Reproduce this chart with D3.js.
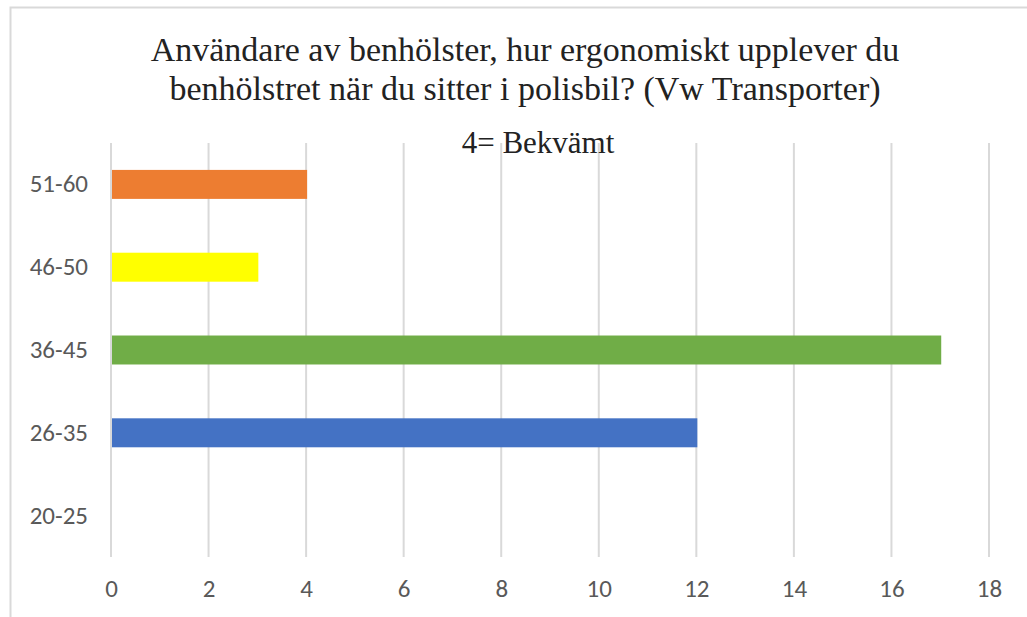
<!DOCTYPE html>
<html>
<head>
<meta charset="utf-8">
<script src="https://cdn.jsdelivr.net/npm/d3@7"></script>
<style>
  body { margin: 0; background: #fff; }
  svg { display: block; }
</style>
</head>
<body>
<div id="chart"></div>
<script>
var titleLines = ["Användare av benhölster, hur ergonomiskt upplever du",
                  "benhölstret när du sitter i polisbil? (Vw Transporter)"];
var subtitle = "4= Bekvämt";
var ageGroups = ["20-25", "26-35", "36-45", "46-50", "51-60"];
var counts = [0, 12, 17, 3, 4];
var barColors = ["#4472c4", "#4472c4", "#70ad47", "#ffff00", "#ed7d31"];
var xTicks = [0, 2, 4, 6, 8, 10, 12, 14, 16, 18];

var W = 1027, H = 617;
var margin = {top: 143, right: 38, bottom: 60, left: 111},
    width = 989 - margin.left,
    height = 557 - margin.top;

var svg = d3.select("#chart").append("svg")
    .attr("width", W)
    .attr("height", H);

// chart frame (cut off at right and bottom)
svg.append("rect")
    .attr("x", 10.5).attr("y", 7.5)
    .attr("width", W).attr("height", H)
    .attr("fill", "none")
    .attr("stroke", "#d9d9d9")
    .attr("stroke-width", 2);

// title
svg.append("g").selectAll("text")
    .data(titleLines)
  .enter().append("text")
    .attr("x", 525)
    .attr("y", function(d, i) { return 61 + i * 39; })
    .attr("text-anchor", "middle")
    .style("font-family", "'Liberation Serif', 'Times New Roman', serif")
    .style("font-size", "34px")
    .style("fill", "#222")
    .text(function(d) { return d; });

var g = svg.append("g")
    .attr("transform", "translate(" + margin.left + "," + margin.top + ")");

var x = d3.scaleLinear()
    .domain([0, 18])
    .range([0, width]);

var y = d3.scaleBand()
    .domain(ageGroups.slice().reverse())
    .range([0, height])
    .paddingInner(0.65)
    .paddingOuter(0.325);

// gridlines
g.append("g")
    .selectAll("line")
    .data(xTicks)
  .enter().append("line")
    .attr("x1", function(d) { return x(d); })
    .attr("x2", function(d) { return x(d); })
    .attr("y1", 0)
    .attr("y2", height)
    .attr("stroke", "#d9d9d9")
    .attr("stroke-width", 2);

// subtitle (drawn over gridlines)
svg.append("text")
    .attr("x", 538)
    .attr("y", 153)
    .attr("text-anchor", "middle")
    .style("font-family", "'Liberation Serif', 'Times New Roman', serif")
    .style("font-size", "31px")
    .style("fill", "#222")
    .text(subtitle);

// bars
var data = ageGroups.map(function(a, i) { return {age: a, n: counts[i], color: barColors[i]}; });
g.selectAll(".bar")
    .data(data)
  .enter().append("rect")
    .attr("class", "bar")
    .attr("x", x(0) + 1)
    .attr("y", function(d) { return y(d.age); })
    .attr("width", function(d) { return Math.max(0, x(d.n) - x(0)); })
    .attr("height", y.bandwidth())
    .attr("fill", function(d) { return d.color; });

// x axis
var xAxis = g.append("g")
    .attr("transform", "translate(0," + height + ")")
    .call(d3.axisBottom(x).tickValues(xTicks).tickSize(0).tickPadding(22));
xAxis.select(".domain").remove();
xAxis.selectAll("text")
    .style("font-family", "Calibri, Carlito, 'Open Sans', sans-serif")
    .style("font-size", "25px")
    .style("fill", "#595959");

// y axis
var yAxis = g.append("g")
    .call(d3.axisLeft(y).tickSize(0).tickPadding(23));
yAxis.select(".domain").remove();
yAxis.selectAll("text")
    .style("font-family", "Calibri, Carlito, 'Open Sans', sans-serif")
    .style("font-size", "25px")
    .style("fill", "#595959");
</script>
</body>
</html>
